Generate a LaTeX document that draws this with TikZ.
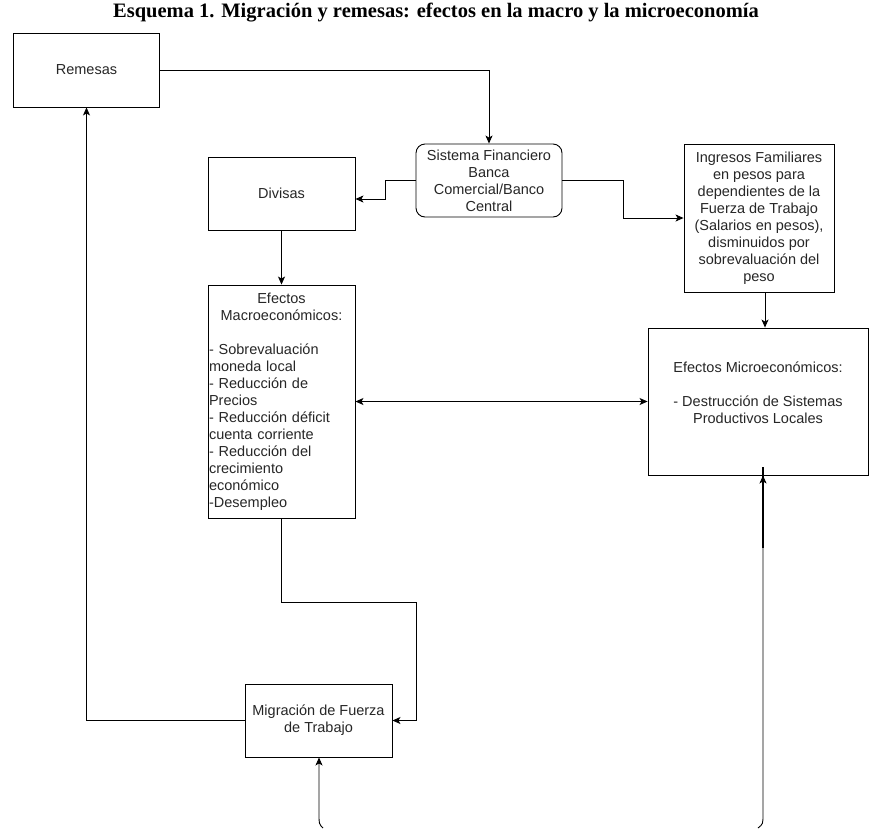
\documentclass[tikz,border=0pt]{standalone}
\usepackage{fontspec}
\setmainfont{Liberation Sans}
\newfontfamily\titlefont{Liberation Serif}
\usetikzlibrary{arrows.meta,calc}
\begin{document}
\begin{tikzpicture}[x=1pt,y=-1pt,
  box/.style={draw,line width=0.9pt,inner sep=1pt,align=center,
    font=\fontsize{14.5}{17}\selectfont,text=black!85},
  conn/.style={line width=0.9pt},
  arr/.style={conn,-{Stealth[length=8pt,width=7pt,inset=2pt]}},
  arrb/.style={conn,{Stealth[length=8pt,width=7pt,inset=2pt]}-{Stealth[length=8pt,width=7pt,inset=2pt]}}]
\useasboundingbox (0,0) rectangle (869,828);
\node[font=\titlefont\bfseries\fontsize{20.5}{22}\selectfont,inner sep=0pt] (title) at (436,13) {Esquema 1. Migración y remesas: efectos en la macro y la microeconomía};

\node[box,minimum width=146pt,minimum height=74pt] (rem) at (86.5,70) {Remesas};
\node[box,rounded corners=9pt,minimum width=146pt,minimum height=73pt] (sis) at (489,180.5) {Sistema Financiero\\Banca\\Comercial/Banco\\Central};
\node[box,minimum width=147pt,minimum height=73pt] (div) at (281.5,193.5) {Divisas};
\node[box,minimum width=150pt,minimum height=148pt] (ing) at (759,218) {Ingresos Familiares\\en pesos para\\dependientes de la\\Fuerza de Trabajo\\(Salarios en pesos),\\disminuidos por\\sobrevaluación del\\peso};
\node[box,minimum width=147pt,minimum height=233pt,text width=145pt,align=left] (mac) at (281.5,401.5) {\centering Efectos\\Macroeconómicos:\par
\vspace{17pt}\raggedright
- Sobrevaluación\\moneda local\\- Reducción de\\Precios\\- Reducción déficit\\cuenta corriente\\- Reducción del\\crecimiento\\económico\\-Desempleo\par};
\node[box,minimum width=220pt,minimum height=147pt] (mic) at (758,401.5) {Efectos Microeconómicos:\\\mbox{}\\- Destrucción de Sistemas\\Productivos Locales\\\mbox{}};
\node[box,minimum width=147pt,minimum height=73pt] (mig) at (318.5,720.5) {Migración de Fuerza\\de Trabajo};

\coordinate (c1) at (416,602);
\coordinate (b1) at (323,828);
\coordinate (b2) at (758,828);

\draw[arr] (rem.east) -| (sis.north);
\draw[arr] (sis.west) -- ++(-30,0) |- ([yshift=-5.5pt]div.east);
\draw[arr] (sis.east) -- ++(61,0) |- (ing.west);
\draw[arr] (div.south) -- (mac.north);
\draw[arr] ([xshift=6pt]ing.south) -- ([xshift=6pt]ing.south |- mic.north);
\draw[arrb] (mac.east) -- (mic.west);
\draw[arr] (mac.south) |- (c1) |- (mig.east);
\draw[arr] (mig.west) -| (rem.south);
\draw[arr] (b1) .. controls (319,824) .. (319,814) -- (mig.south -| 319,0);
\draw[arr] (b2) .. controls (763,824) .. (763,814) -- ([xshift=5pt]mic.south);
\draw[line width=1.6pt] (763,548) -- ([xshift=5pt,yshift=8pt]mic.south);
\end{tikzpicture}
\end{document}
